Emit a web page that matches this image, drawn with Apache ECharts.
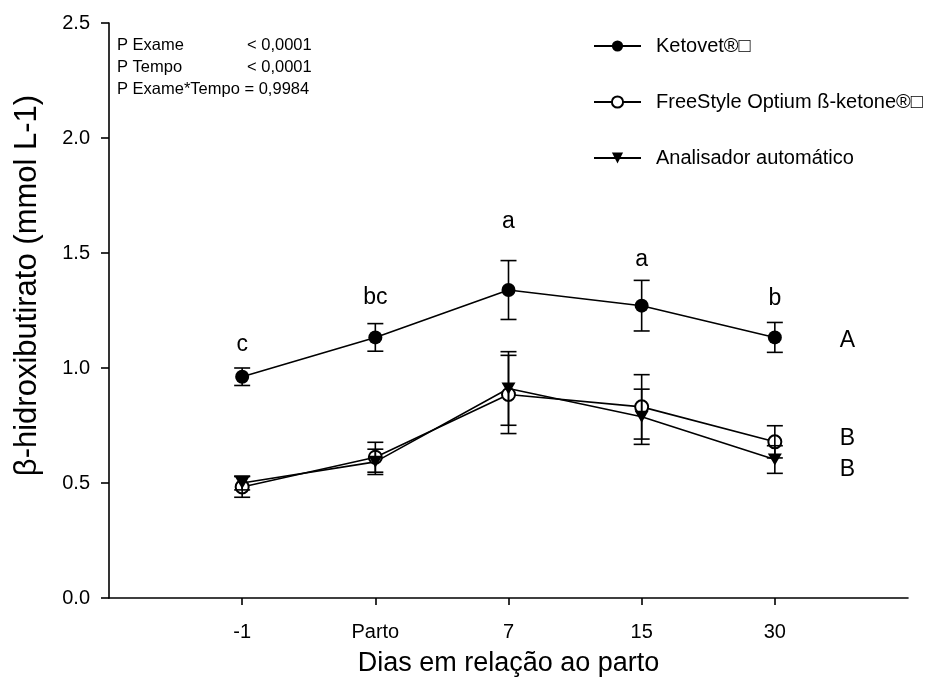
<!DOCTYPE html>
<html>
<head>
<meta charset="utf-8">
<script src="https://cdn.jsdelivr.net/npm/echarts@6/dist/echarts.min.js"></script>
<style>
html,body{margin:0;padding:0;background:#fff;}
#chart{width:927px;height:695px;}
</style>
</head>
<body>
<div id="chart"></div>
<script>
// ---- Data ----
var categories = ['-1', 'Parto', '7', '15', '30'];
var seriesNames = ['Ketovet®\u25A1', 'FreeStyle Optium ß-ketone®\u25A1', 'Analisador automático'];
var ketovet = [0.962, 1.133, 1.339, 1.271, 1.133];
var ketovetErr = [0.038, 0.060, 0.128, 0.110, 0.065];
var freestyle = [0.483, 0.612, 0.885, 0.831, 0.679];
var freestyleErr = [0.045, 0.065, 0.170, 0.140, 0.070];
var analisador = [0.500, 0.592, 0.911, 0.788, 0.602];
var analisadorErr = [0.030, 0.055, 0.160, 0.120, 0.060];
var yTicks = [0, 0.5, 1.0, 1.5, 2.0, 2.5];
// letters: [x position (category slot), y value, text]
var timeLetters = [[1, 1.10, 'c'], [2, 1.308, 'bc'], [3, 1.635, 'a'], [4, 1.473, 'a'], [5, 1.303, 'b']];
var groupLetters = [[5.546, 1.121, 'A'], [5.546, 0.694, 'B'], [5.546, 0.556, 'B']];
var statsLeft = ['P Exame', 'P Tempo', 'P Exame*Tempo = 0,9984'];
var statsRight = ['< 0,0001', '< 0,0001', ''];

var FONT = "'Liberation Sans', Arial, Helvetica, sans-serif";

function pts(vals) { return vals.map(function (v, i) { return [i + 1, v]; }); }
function errs(vals, e) { return vals.map(function (v, i) { return [i + 1, v - e[i], v + e[i]]; }); }

function errRender(params, api) {
  var x = api.value(0), lo = api.value(1), hi = api.value(2);
  var pt = api.coord([x, hi]), pb = api.coord([x, lo]);
  var hw = 8;
  var st = { stroke: '#000', lineWidth: 1.6 };
  return {
    type: 'group',
    children: [
      { type: 'line', shape: { x1: pt[0], y1: pt[1], x2: pb[0], y2: pb[1] }, style: st },
      { type: 'line', shape: { x1: pt[0] - hw, y1: pt[1], x2: pt[0] + hw, y2: pt[1] }, style: st },
      { type: 'line', shape: { x1: pb[0] - hw, y1: pb[1], x2: pb[0] + hw, y2: pb[1] }, style: st }
    ]
  };
}

// letters drawn as text placed through the axes' coordinate system
function letterRender(params, api) {
  var p = api.coord([api.value(0), api.value(1)]);
  return {
    type: 'text', x: p[0], y: p[1],
    style: { text: params.context.letters[params.dataIndex], font: '23px ' + FONT, fill: '#000',
      align: 'center', verticalAlign: 'middle' }
  };
}

var chart = echarts.init(document.getElementById('chart'), null, { renderer: 'canvas' });

var graphics = [];
statsLeft.forEach(function (t, i) {
  graphics.push({ type: 'text', left: 117, top: 37 + i * 22,
    style: { text: t, font: '16.5px ' + FONT, fill: '#000' } });
  if (statsRight[i]) {
    graphics.push({ type: 'text', left: 247, top: 37 + i * 22,
      style: { text: statsRight[i], font: '16.5px ' + FONT, fill: '#000' } });
  }
});

function letterSeries(list) {
  return {
    type: 'custom', silent: true,
    renderItem: function (params, api) {
      var p = api.coord([api.value(0), api.value(1)]);
      return {
        type: 'text', x: p[0], y: p[1],
        style: { text: list[params.dataIndex][2], font: '23px ' + FONT, fill: '#000',
          align: 'center', verticalAlign: 'middle' }
      };
    },
    data: list.map(function (d) { return [d[0], d[1]]; }),
    encode: { x: 0, y: 1 },
    z: 5
  };
}

var option = {
  backgroundColor: '#fff',
  animation: false,
  textStyle: { fontFamily: FONT },
  grid: { left: 109, right: 19, top: 23, bottom: 97 },
  legend: {
    orient: 'vertical', left: 588, top: 31,
    itemWidth: 47, itemHeight: 14, itemGap: 36,
    data: seriesNames,
    textStyle: { fontSize: 20, color: '#000', fontFamily: FONT, padding: [0, 0, 0, 10] },
    selectedMode: false
  },
  xAxis: {
    type: 'value', min: 0, max: 6, interval: 1,
    name: 'Dias em relação ao parto', nameLocation: 'middle', nameGap: 52,
    nameTextStyle: { fontSize: 27, color: '#000', fontFamily: FONT },
    axisLine: { show: true, lineStyle: { color: '#000', width: 1.6 } },
    axisTick: { show: true, inside: false, length: 7, lineStyle: { color: '#000', width: 1.6 }, customValues: [1, 2, 3, 4, 5] },
    axisLabel: { fontSize: 20, color: '#000', margin: 24, customValues: [1, 2, 3, 4, 5],
      formatter: function (v) { return categories[Math.round(v) - 1] || ''; } },
    splitLine: { show: false }
  },
  yAxis: {
    type: 'value', min: 0, max: 2.5, interval: 0.5,
    name: 'β-hidroxibutirato (mmol L-1)', nameLocation: 'middle', nameGap: 66, nameRotate: 90,
    nameTextStyle: { fontSize: 31, color: '#000', fontFamily: FONT, padding: [0, 0, 0, 50] },
    axisLine: { show: true, lineStyle: { color: '#000', width: 1.6 } },
    axisTick: { show: true, inside: false, length: 8, lineStyle: { color: '#000', width: 1.6 } },
    axisLabel: { fontSize: 20, color: '#000', margin: 19,
      formatter: function (v) { return v.toFixed(1); } },
    splitLine: { show: false }
  },
  graphic: graphics,
  series: [
    { name: seriesNames[0], type: 'line', data: pts(ketovet), symbol: 'circle', symbolSize: 14,
      itemStyle: { color: '#000' }, lineStyle: { color: '#000', width: 1.6 }, z: 3 },
    { name: seriesNames[1], type: 'line', data: pts(freestyle), symbol: 'emptyCircle', symbolSize: 13,
      itemStyle: { color: '#000', borderWidth: 1.6 }, lineStyle: { color: '#000', width: 1.6 }, z: 3 },
    { name: seriesNames[2], type: 'line', data: pts(analisador), symbol: 'triangle', symbolRotate: 180, symbolSize: [14, 12],
      itemStyle: { color: '#000' }, lineStyle: { color: '#000', width: 1.6 }, z: 3 },
    { type: 'custom', silent: true, renderItem: errRender, data: errs(ketovet, ketovetErr), encode: { x: 0, y: [1, 2] }, z: 4 },
    { type: 'custom', silent: true, renderItem: errRender, data: errs(freestyle, freestyleErr), encode: { x: 0, y: [1, 2] }, z: 4 },
    { type: 'custom', silent: true, renderItem: errRender, data: errs(analisador, analisadorErr), encode: { x: 0, y: [1, 2] }, z: 4 },
    letterSeries(timeLetters),
    letterSeries(groupLetters)
  ]
};
chart.setOption(option);
</script>
</body>
</html>
